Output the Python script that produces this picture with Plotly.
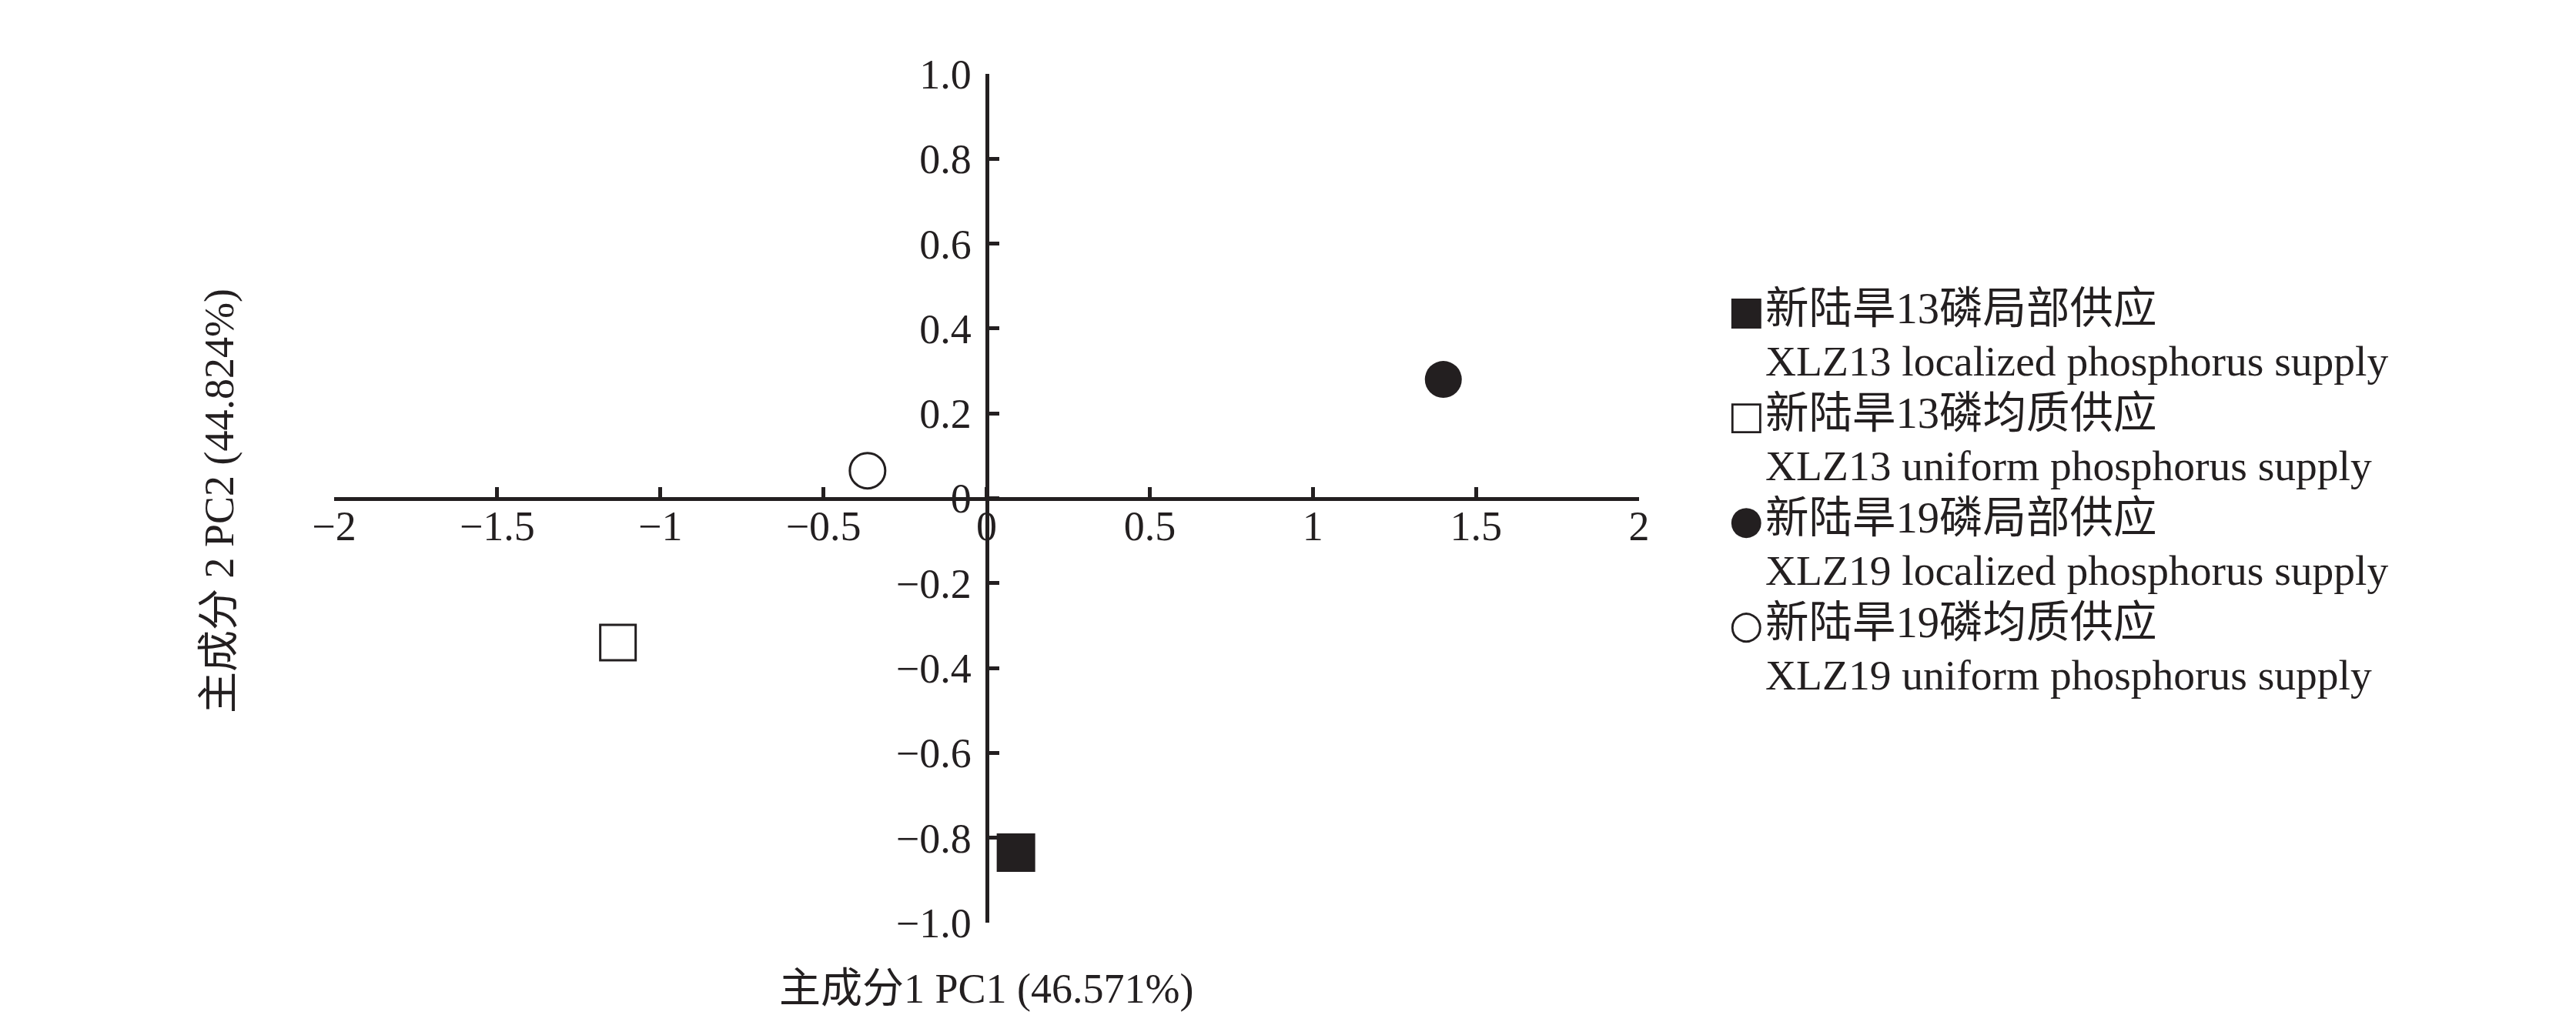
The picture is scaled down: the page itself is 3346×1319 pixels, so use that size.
import plotly.graph_objects as go

# ---- data ----
groups_cn = ["新陆旱13磷局部供应", "新陆旱13磷均质供应", "新陆旱19磷局部供应", "新陆旱19磷均质供应"]
groups_en = ["XLZ13 localized phosphorus supply", "XLZ13 uniform phosphorus supply",
             "XLZ19 localized phosphorus supply", "XLZ19 uniform phosphorus supply"]
pc1 = [0.09, -1.13, 1.40, -0.365]
pc2 = [-0.835, -0.34, 0.28, 0.065]
legend_glyphs = ["■", "□", "●", "○"]

x_tickvals = [-2, -1.5, -1, -0.5, 0, 0.5, 1, 1.5, 2]
x_ticktext = ["−2", "−1.5", "−1", "−0.5", "0", "0.5", "1", "1.5", "2"]
y_tickvals = [1.0, 0.8, 0.6, 0.4, 0.2, 0, -0.2, -0.4, -0.6, -0.8, -1.0]
y_ticktext = ["1.0", "0.8", "0.6", "0.4", "0.2", "0", "−0.2", "−0.4", "−0.6", "−0.8", "−1.0"]

x_title = "主成分1 PC1 (46.571%)"
y_title = "主成分 2 PC2 (44.824%)"

# ---- styles ----
INK = "#231f20"
FONT = "Liberation Serif, 'Times New Roman', 'Noto Sans CJK SC', serif"
FS = 54
W, H = 3346, 1319
OFF = 8  # page body margin offset
L, T = 434 - OFF, 96 - OFF
R, B = W - (2129 - OFF), H - (1199 - OFF)
PW, PH = W - L - R, H - T - B

def fx(px):
    return (px - OFF - L) / PW

def fy(py):
    return 1 - (py - OFF - T) / PH

marker_styles = [
    dict(symbol="square", size=50, color=INK, line=dict(color=INK, width=0)),
    dict(symbol="square", size=46, color="white", line=dict(color=INK, width=3)),
    dict(symbol="circle", size=48, color=INK, line=dict(color=INK, width=0)),
    dict(symbol="circle", size=46, color="white", line=dict(color=INK, width=3)),
]

fig = go.Figure()
for i in range(len(pc1)):
    fig.add_trace(go.Scatter(
        x=[pc1[i]], y=[pc2[i]], mode="markers",
        name=groups_cn[i] + "<br>" + groups_en[i],
        marker=marker_styles[i], showlegend=False,
    ))

annotations = []
# legend built from text lines (glyph + bilingual label)
for i in range(len(groups_cn)):
    y_cn = 401 + 136 * i
    y_en = 469 + 136 * i
    annotations.append(dict(x=fx(2268), y=fy(y_cn + 2), xref="paper", yref="paper",
                            text=legend_glyphs[i], showarrow=False, xanchor="center", yanchor="middle",
                            font=dict(family="DejaVu Sans", size=51, color=INK)))
    annotations.append(dict(x=fx(2291), y=fy(y_cn), xref="paper", yref="paper",
                            text=groups_cn[i], showarrow=False, xanchor="left", yanchor="middle",
                            font=dict(family=FONT, size=56.5, color=INK)))
    annotations.append(dict(x=fx(2291), y=fy(y_en), xref="paper", yref="paper",
                            text=groups_en[i], showarrow=False, xanchor="left", yanchor="middle",
                            font=dict(family=FONT, size=55.5, color=INK)))

annotations.append(dict(x=fx(1281), y=fy(1285), xref="paper", yref="paper", text=x_title,
                        showarrow=False, xanchor="center", yanchor="middle",
                        font=dict(family=FONT, size=FS, color=INK)))
annotations.append(dict(x=fx(285), y=fy(651), xref="paper", yref="paper", text=y_title,
                        showarrow=False, xanchor="center", yanchor="middle", textangle=-90,
                        font=dict(family=FONT, size=FS, color=INK)))

fig.update_layout(
    width=W, height=H,
    margin=dict(l=L, r=R, t=T, b=B, pad=0),
    paper_bgcolor="white", plot_bgcolor="white",
    font=dict(family=FONT, size=FS, color=INK),
    annotations=annotations,
    showlegend=False,
    xaxis=dict(
        range=[-2, 2], anchor="free", position=0.5, side="bottom",
        showgrid=False, zeroline=False,
        showline=True, linecolor=INK, linewidth=5,
        ticks="inside", ticklen=13, tickwidth=5, tickcolor=INK,
        tickvals=x_tickvals, ticktext=x_ticktext,
        tickfont=dict(family=FONT, size=FS, color=INK),
        ticklabelstandoff=-13,
    ),
    yaxis=dict(
        range=[-1, 1], anchor="free", position=0.5, side="left",
        showgrid=False, zeroline=False,
        showline=True, linecolor=INK, linewidth=5,
        ticks="inside", ticklen=13, tickwidth=5, tickcolor=INK,
        tickvals=y_tickvals, ticktext=y_ticktext,
        tickfont=dict(family=FONT, size=FS, color=INK),
        ticklabelstandoff=7,
    ),
)

fig.write_html("out.html")
